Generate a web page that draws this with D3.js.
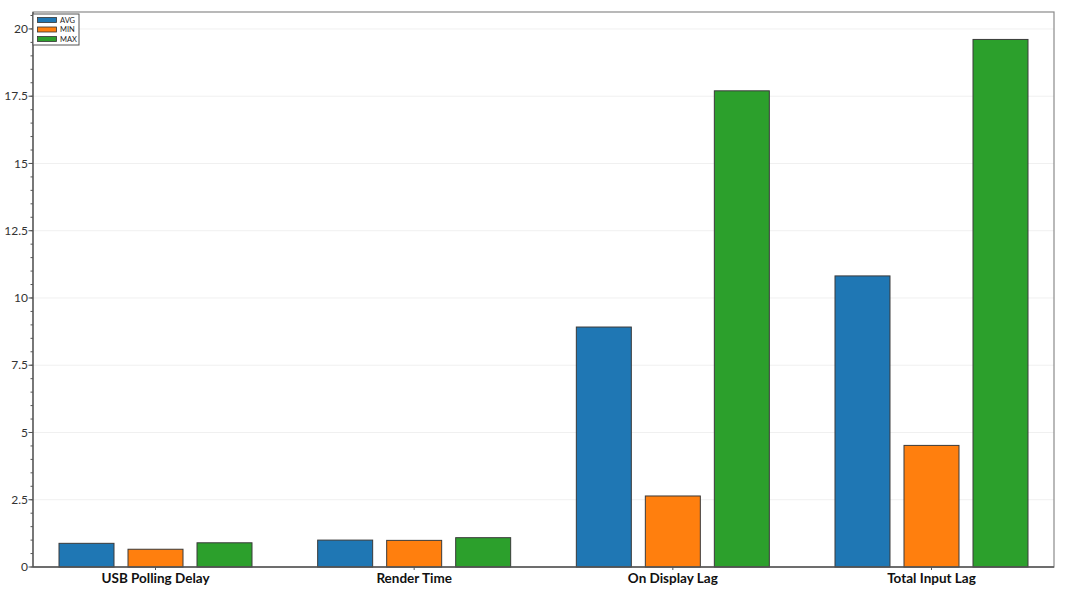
<!DOCTYPE html>
<html><head><meta charset="utf-8">
<script src="https://cdn.jsdelivr.net/npm/d3@7"></script>
<style>body{margin:0;background:#fff}svg{display:block}text{font-family:Lato,"Open Sans",sans-serif}</style>
</head><body><svg id="c" width="1066" height="600"></svg>
<script>
const categories = ["USB Polling Delay", "Render Time", "On Display Lag", "Total Input Lag"];
const seriesNames = ["AVG", "MIN", "MAX"];
const avgValues = [0.88, 1.00, 8.92, 10.82];
const minValues = [0.66, 0.99, 2.64, 4.52];
const maxValues = [0.90, 1.09, 17.70, 19.61];
const yTicks = [0, 2.5, 5, 7.5, 10, 12.5, 15, 17.5, 20];
const colors = ["#1f77b4", "#ff7f0e", "#2ca02c"];

const values = [avgValues, minValues, maxValues];
const svg = d3.select("#c");
const L = 33, R = 1054, T = 12, B = 567;
const y = d3.scaleLinear().domain([0, 20.63]).range([B, T]);
const x = d3.scalePoint().domain(categories).range([L, R]).padding(0.4736);
const inner = d3.scaleBand().domain(seriesNames).range([-96.5, 96.5]).paddingInner(0.203);

// grid
svg.append("g").selectAll("line").data(yTicks.slice(1)).join("line")
  .attr("x1", L).attr("x2", R).attr("y1", d => y(d)).attr("y2", d => y(d))
  .attr("stroke", "#f0f0f0").attr("stroke-width", 1);

// frame
svg.append("rect").attr("x", L).attr("y", T).attr("width", R - L).attr("height", B - T)
  .attr("fill", "none").attr("stroke", "#8a8a8a").attr("stroke-width", 1.2);

// bars
const rows = [];
categories.forEach((c, i) => seriesNames.forEach((s, j) => rows.push({c, s, v: values[j][i], j})));
svg.append("g").selectAll("rect").data(rows).join("rect")
  .attr("x", d => x(d.c) + inner(d.s))
  .attr("y", d => y(d.v))
  .attr("width", inner.bandwidth())
  .attr("height", d => y(0) - y(d.v))
  .attr("fill", d => colors[d.j])
  .attr("stroke", "#3a3a3a").attr("stroke-width", 1);

// y axis
const minor = d3.range(0, 20.6, 0.5);
const ya = svg.append("g");
ya.selectAll("line.mi").data(minor).join("line")
  .attr("x1", L - 2.5).attr("x2", L).attr("y1", d => y(d)).attr("y2", d => y(d))
  .attr("stroke", "#555").attr("stroke-width", 1);
ya.selectAll("line.ma").data(yTicks).join("line")
  .attr("x1", L - 4.5).attr("x2", L).attr("y1", d => y(d)).attr("y2", d => y(d))
  .attr("stroke", "#555").attr("stroke-width", 1);
ya.selectAll("text").data(yTicks).join("text")
  .attr("x", L - 5).attr("y", d => y(d)).attr("dy", "0.35em")
  .attr("text-anchor", "end").attr("font-size", 12).attr("fill", "#333")
  .text(d => String(d));
ya.append("line").attr("x1", L).attr("x2", L).attr("y1", T).attr("y2", B)
  .attr("stroke", "#555").attr("stroke-width", 1.3);

// x axis
const xa = svg.append("g");
xa.append("line").attr("x1", L).attr("x2", R).attr("y1", B).attr("y2", B).attr("stroke", "#555").attr("stroke-width", 1.3);
xa.selectAll("line.t").data(categories).join("line")
  .attr("x1", d => x(d)).attr("x2", d => x(d)).attr("y1", B).attr("y2", B + 3)
  .attr("stroke", "#555");
xa.selectAll("text").data(categories).join("text")
  .attr("x", d => x(d)).attr("y", 583)
  .attr("text-anchor", "middle").attr("font-size", 13.5).attr("font-weight", "bold").attr("fill", "#111")
  .text(d => d);

// legend
const lg = svg.append("g").attr("transform", "translate(33,14)");
lg.append("rect").attr("x", 0).attr("y", 0).attr("width", 46).attr("height", 31)
  .attr("fill", "#fff").attr("stroke", "#555").attr("stroke-width", 1);
seriesNames.forEach((s, j) => {
  lg.append("rect").attr("x", 4.5).attr("y", 3.5 + j * 9.5).attr("width", 19).attr("height", 5)
    .attr("fill", colors[j]).attr("stroke", "#333").attr("stroke-width", 0.8);
  lg.append("text").attr("x", 27).attr("y", 6 + j * 9.5).attr("dy", "0.35em")
    .attr("font-size", 7.5).attr("fill", "#222").text(s);
});
</script></body></html>
